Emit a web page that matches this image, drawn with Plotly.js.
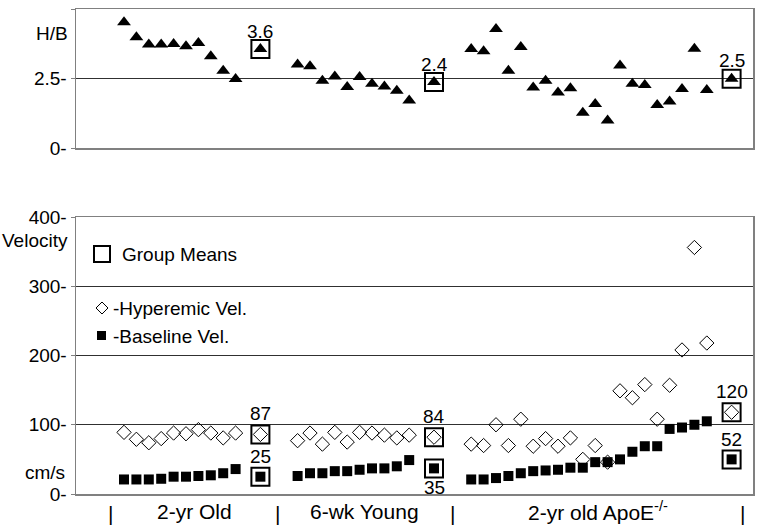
<!DOCTYPE html>
<html>
<head>
<meta charset="utf-8">
<script src="https://cdn.plot.ly/plotly-3.0.1.min.js"></script>
<style>html,body{margin:0;padding:0;background:#fff;}#chart{width:760px;height:527px;}</style>
</head>
<body>
<div id="chart"></div>
<script>
// ---- data ----
const groups = ["2-yr Old", "6-wk Young", "2-yr old ApoE<sup>-/-</sup>"];

const hbG1 = [4.52, 3.98, 3.72, 3.72, 3.74, 3.66, 3.78, 3.30, 2.78, 2.48];
const hbG2 = [3.00, 2.94, 2.42, 2.57, 2.19, 2.55, 2.31, 2.21, 2.06, 1.71];
const hbG3 = [3.56, 3.48, 4.28, 2.78, 3.63, 2.18, 2.42, 2.00, 2.15, 1.27,
              1.58, 0.99, 2.97, 2.31, 2.27, 1.55, 1.67, 2.12, 3.57, 2.09];
const hbMeans = [3.56, 2.37, 2.49];
const hbMeanLabels = ["3.6", "2.4", "2.5"];

const hypG1 = [89, 79, 74, 80, 88, 87, 93, 88, 81, 88];
const hypG2 = [77, 88, 72, 89, 75, 89, 88, 85, 81, 85];
const hypG3 = [72, 70, 100, 70, 108, 69, 80, 69, 81, 50,
               70, 46, 149, 139, 158, 108, 157, 208, 356, 218];
const hypMeans = [86, 82, 118];
const hypMeanLabels = ["87", "84", "120"];

const baseG1 = [21, 21, 21, 22, 25, 25, 26, 27, 30, 36];
const baseG2 = [26, 30, 30, 33, 33, 35, 37, 37, 40, 49];
const baseG3 = [21, 21, 23, 26, 30, 33, 34, 35, 38, 38,
                46, 46, 50, 61, 69, 69, 94, 96, 100, 105];
const baseMeans = [25, 37, 50];
const baseMeanLabels = ["25", "35", "52"];

// ---- layout helpers (slot positions on the category-like x axis) ----
const groupStart = [0, 14, 28];
const meanGap = 2;
const sepSlots = [-1.05, 12.35, 26.5, 49.9];

function slots(arr, g) { return arr.map((_, i) => groupStart[g] + i); }
function meanSlot(g, n) { return groupStart[g] + n - 1 + meanGap; }

const hbSeries = [hbG1, hbG2, hbG3];
const hypSeries = [hypG1, hypG2, hypG3];
const baseSeries = [baseG1, baseG2, baseG3];

function flatX(series) { return [].concat(...series.map((s, g) => slots(s, g))); }
function flatY(series) { return [].concat(...series); }
const meanX = hbSeries.map((s, g) => meanSlot(g, s.length));

const FONT = "Liberation Sans, Arial, sans-serif";
const L = 76, R = 753, T = 9, B = 494;
const px2x = p => (p - L) / (R - L);
const py2y = p => (B - p) / (B - T);

const tri = {symbol: "triangle-up", size: 12, color: "#000"};
const dia = {symbol: "diamond-open", size: 11, color: "#000", line: {width: 1, color: "#000"}};
const sq = {symbol: "square", size: 10, color: "#000"};
const box = {symbol: "square-open", size: 18, color: "#000", line: {width: 2, color: "#000"}};

const traces = [
  {x: flatX(hbSeries), y: flatY(hbSeries), xaxis: "x2", yaxis: "y2", mode: "markers", marker: tri, cliponaxis: false},
  {x: meanX, y: hbMeans, xaxis: "x2", yaxis: "y2", mode: "markers", marker: tri, cliponaxis: false},
  {x: meanX, y: hbMeans, xaxis: "x2", yaxis: "y2", mode: "markers", marker: box, cliponaxis: false},
  {x: flatX(hypSeries), y: flatY(hypSeries), xaxis: "x", yaxis: "y", mode: "markers", marker: dia, cliponaxis: false},
  {x: flatX(baseSeries), y: flatY(baseSeries), xaxis: "x", yaxis: "y", mode: "markers", marker: sq, cliponaxis: false},
  {x: meanX, y: hypMeans, xaxis: "x", yaxis: "y", mode: "markers", marker: dia, cliponaxis: false},
  {x: meanX, y: baseMeans, xaxis: "x", yaxis: "y", mode: "markers", marker: sq, cliponaxis: false},
  {x: meanX, y: hypMeans, xaxis: "x", yaxis: "y", mode: "markers", marker: box, cliponaxis: false},
  {x: meanX, y: baseMeans, xaxis: "x", yaxis: "y", mode: "markers", marker: box, cliponaxis: false}
];

const xRange = [(L - 124) / 12.4, (R - 124) / 12.4];
const txt = (size) => ({family: FONT, size: size, color: "#000"});
const ann = (o) => Object.assign({showarrow: false, xanchor: "center", yanchor: "middle", font: txt(19)}, o);

const annotations = [];
hbMeanLabels.forEach((t, g) => annotations.push(ann({x: meanX[g], y: hbMeans[g], xref: "x2", yref: "y2", text: t, yshift: 18})));
hypMeanLabels.forEach((t, g) => annotations.push(ann({x: meanX[g], y: hypMeans[g], xref: "x", yref: "y", text: t, yshift: 21})));
baseMeanLabels.forEach((t, g) => annotations.push(ann({x: meanX[g], y: baseMeans[g], xref: "x", yref: "y", text: t, yshift: g === 1 ? -19 : 20})));

// group labels & separators
groups.forEach((t, g) => annotations.push(ann({x: (sepSlots[g] + sepSlots[g + 1]) / 2, y: py2y(511), xref: "x", yref: "paper", text: t, font: txt(21)})));
sepSlots.forEach(s => annotations.push(ann({x: s, y: py2y(513), xref: "x", yref: "paper", text: "|", font: txt(21)})));

// axis labels
annotations.push(ann({x: px2x(52), y: py2y(33), xref: "paper", yref: "paper", text: "H/B"}));
annotations.push(ann({x: px2x(35), y: py2y(241), xref: "paper", yref: "paper", text: "Velocity"}));
annotations.push(ann({x: px2x(67), y: py2y(472), xref: "paper", yref: "paper", xanchor: "right", text: "cm/s"}));

// legend texts
annotations.push(ann({x: px2x(120), y: py2y(254), xref: "paper", yref: "paper", xanchor: "left", text: "Group Means"}));
annotations.push(ann({x: px2x(111), y: py2y(308), xref: "paper", yref: "paper", xanchor: "left", text: "-Hyperemic Vel."}));
annotations.push(ann({x: px2x(111), y: py2y(336), xref: "paper", yref: "paper", xanchor: "left", text: "-Baseline Vel."}));

// legend symbols
const shapes = [
  {type: "rect", xref: "paper", yref: "paper", x0: px2x(94), x1: px2x(110), y0: py2y(262), y1: py2y(246), line: {color: "#000", width: 2}},
  {type: "path", xref: "paper", yref: "paper",
   path: `M ${px2x(96)} ${py2y(308)} L ${px2x(102)} ${py2y(302)} L ${px2x(108)} ${py2y(308)} L ${px2x(102)} ${py2y(314)} Z`,
   line: {color: "#000", width: 1}},
  {type: "rect", xref: "paper", yref: "paper", x0: px2x(97), x1: px2x(106), y0: py2y(340), y1: py2y(331), fillcolor: "#000", line: {color: "#000", width: 0}}
];

const topDom = [py2y(148), 1];
const botDom = [0, py2y(217)];

const xCommon = {range: xRange, showgrid: false, zeroline: false, showticklabels: false, ticks: "",
                 showline: true, mirror: true, linecolor: "#808080", linewidth: 1.5};
const yCommon = {showgrid: true, gridcolor: "#303030", gridwidth: 1.2, zeroline: false,
                 showline: true, mirror: true, linecolor: "#808080", linewidth: 1.5,
                 ticks: "outside", ticklen: 4, tickcolor: "#808080", tickfont: txt(19)};

const layout = {
  width: 760, height: 527,
  margin: {l: L, r: 760 - R, t: T, b: 527 - B},
  paper_bgcolor: "#fff", plot_bgcolor: "#fff",
  showlegend: false,
  font: txt(19),
  xaxis: Object.assign({}, xCommon, {anchor: "y"}),
  xaxis2: Object.assign({}, xCommon, {anchor: "y2", matches: "x"}),
  yaxis: Object.assign({}, yCommon, {domain: botDom, range: [0, 400], tickvals: [0, 100, 200, 300, 400],
                                     ticktext: ["0-", "100-", "200-", "300-", "400-"], anchor: "x"}),
  yaxis2: Object.assign({}, yCommon, {domain: topDom, range: [0, 5], tickvals: [0, 2.5, 5],
                                      ticktext: ["0-", "2.5-", "5-"], anchor: "x2"}),
  annotations: annotations,
  shapes: shapes
};

Plotly.newPlot("chart", traces, layout, {staticPlot: true, displayModeBar: false});
</script>
</body>
</html>
